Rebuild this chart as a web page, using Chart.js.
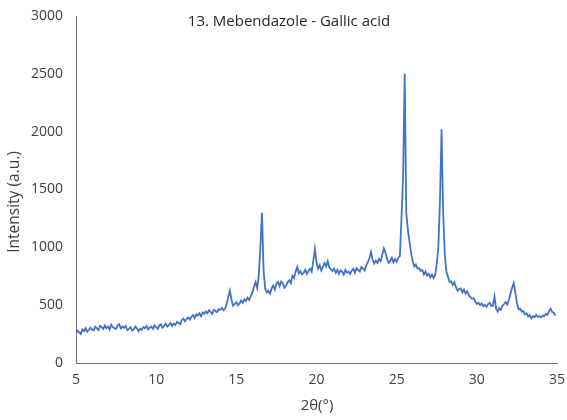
<!DOCTYPE html>
<html>
<head>
<meta charset="utf-8">
<script src="https://cdn.jsdelivr.net/npm/chart.js@4.4.1/dist/chart.umd.min.js"></script>
<style>
  html, body { margin: 0; padding: 0; background: #ffffff; }
  #wrap { width: 567px; height: 420px; position: relative; }
</style>
</head>
<body>
<div id="wrap"><canvas id="c" width="567" height="420"></canvas></div>
<script>
const chartTitle = "13. Mebendazole - Gallic acid";
const xAxisTitle = "2θ(°)";
const yAxisTitle = "Intensity (a.u.)";
const yTicks = [0, 500, 1000, 1500, 2000, 2500, 3000];
const xTicks = [5, 10, 15, 20, 25, 30, 35];

// 2θ positions (degrees)
const twoTheta = [
  5.0,5.1,5.2,5.3,5.4,5.5,5.6,5.7,5.8,5.9,
  6.0,6.1,6.2,6.3,6.4,6.5,6.6,6.7,6.8,6.9,
  7.0,7.1,7.2,7.3,7.4,7.5,7.6,7.7,7.8,7.9,
  8.0,8.1,8.2,8.3,8.4,8.5,8.6,8.7,8.8,8.9,
  9.0,9.1,9.2,9.3,9.4,9.5,9.6,9.7,9.8,9.9,
  10.0,10.1,10.2,10.3,10.4,10.5,10.6,10.7,10.8,10.9,
  11.0,11.1,11.2,11.3,11.4,11.5,11.6,11.7,11.8,11.9,
  12.0,12.1,12.2,12.3,12.4,12.5,12.6,12.7,12.8,12.9,
  13.0,13.1,13.2,13.3,13.4,13.5,13.6,13.7,13.8,13.9,
  14.0,14.1,14.2,14.3,14.4,14.5,14.6,14.7,14.8,14.9,
  15.0,15.1,15.2,15.3,15.4,15.5,15.6,15.7,15.8,15.9,
  16.0,16.1,16.2,16.3,16.4,16.5,16.6,16.7,16.8,16.9,
  17.0,17.1,17.2,17.3,17.4,17.5,17.6,17.7,17.8,17.9,
  18.0,18.1,18.2,18.3,18.4,18.5,18.6,18.7,18.8,18.9,
  19.0,19.1,19.2,19.3,19.4,19.5,19.6,19.7,19.8,19.9,
  20.0,20.1,20.2,20.3,20.4,20.5,20.6,20.7,20.8,20.9,
  21.0,21.1,21.2,21.3,21.4,21.5,21.6,21.7,21.8,21.9,
  22.0,22.1,22.2,22.3,22.4,22.5,22.6,22.7,22.8,22.9,
  23.0,23.1,23.2,23.3,23.4,23.5,23.6,23.7,23.8,23.9,
  24.0,24.1,24.2,24.3,24.4,24.5,24.6,24.7,24.8,24.9,
  25.0,25.1,25.2,25.3,25.4,25.5,25.6,25.7,25.8,25.9,
  26.0,26.1,26.2,26.3,26.4,26.5,26.6,26.7,26.8,26.9,
  27.0,27.1,27.2,27.3,27.4,27.5,27.6,27.7,27.8,27.9,
  28.0,28.1,28.2,28.3,28.4,28.5,28.6,28.7,28.8,28.9,
  29.0,29.1,29.2,29.3,29.4,29.5,29.6,29.7,29.8,29.9,
  30.0,30.1,30.2,30.3,30.4,30.5,30.6,30.7,30.8,30.9,
  31.0,31.1,31.2,31.3,31.4,31.5,31.6,31.7,31.8,31.9,
  32.0,32.1,32.2,32.3,32.4,32.5,32.6,32.7,32.8,32.9,
  33.0,33.1,33.2,33.3,33.4,33.5,33.6,33.7,33.8,33.9,
  34.0,34.1,34.2,34.3,34.4,34.5,34.6,34.7,34.8,34.9
];

// Intensity (a.u.)
const intensity = [
  255,280,265,250,290,275,300,270,285,305,
  290,280,315,300,285,320,310,295,325,300,
  315,290,330,310,300,295,325,335,300,315,
  305,320,285,295,310,280,290,315,300,275,
  295,285,310,300,320,290,305,315,295,325,
  310,295,325,335,305,320,340,315,330,345,
  320,340,330,355,345,335,370,385,360,380,
  395,375,400,415,390,420,410,430,405,435,
  425,445,430,455,440,425,460,450,440,465,
  460,475,455,470,510,575,625,545,495,510,
  525,500,515,540,520,550,535,565,545,575,
  610,660,700,650,760,1000,1300,800,640,610,
  625,600,645,670,635,685,700,665,705,690,
  650,665,700,715,690,755,735,790,830,775,
  795,765,780,805,770,795,815,790,880,985,
  870,815,845,800,830,865,835,880,825,810,
  795,815,780,805,770,800,790,765,805,780,
  790,770,800,815,780,820,805,790,830,815,
  800,845,870,905,960,895,860,885,865,900,
  880,935,990,955,900,865,880,910,870,900,
  875,910,925,1250,1600,2500,1300,1150,1050,950,
  880,835,850,815,820,795,805,765,790,755,
  770,740,765,735,760,860,1000,1400,2020,1300,
  940,790,745,700,705,675,700,655,625,640,
  645,610,635,600,620,585,570,555,560,535,
  510,520,500,515,490,505,485,510,520,495,
  495,575,470,445,475,460,495,510,525,505,
  545,600,650,690,610,520,465,470,445,450,
  420,430,400,415,385,405,395,415,400,405,
  395,410,405,425,415,445,470,440,435,410
];

const points = twoTheta.map((x, i) => ({ x: x, y: intensity[i] }));

const FONT = "'Open Sans', 'Liberation Sans', sans-serif";
const TEXT = '#404040';
const AXIS = '#6e6e6e';

const textPlugin = {
  id: 'texts',
  afterDraw(chart) {
    const ctx = chart.ctx;
    ctx.save();
    ctx.textAlign = 'center';
    ctx.textBaseline = 'middle';
    ctx.fillStyle = '#262626';
    ctx.font = '15px ' + FONT;
    ctx.fillText(chartTitle, 289, 22);
    ctx.fillStyle = TEXT;
    ctx.font = '15px ' + FONT;
    ctx.fillText(xAxisTitle, 317, 406);
    ctx.translate(15, 202);
    ctx.rotate(-Math.PI / 2);
    ctx.font = '15.5px ' + FONT;
    ctx.fillText(yAxisTitle, 0, 0);
    ctx.restore();
  }
};

new Chart(document.getElementById('c'), {
  type: 'line',
  data: {
    datasets: [{
      data: points,
      borderColor: '#4472C4',
      borderWidth: 1.8,
      pointRadius: 0,
      tension: 0,
      fill: false
    }]
  },
  options: {
    responsive: false,
    animation: false,
    devicePixelRatio: 1,
    layout: { padding: { top: 16, right: 10, left: 0, bottom: 0 } },
    plugins: { legend: { display: false }, tooltip: { enabled: false } },
    scales: {
      x: {
        type: 'linear',
        min: 5, max: 35,
        afterBuildTicks(scale) { scale.ticks = xTicks.map(v => ({ value: v })); },
        afterFit(scale) { scale.height = 57; scale.paddingLeft = 0; scale.paddingRight = 0; },
        grid: { display: false, drawTicks: false },
        border: { display: true, color: AXIS, width: 1 },
        ticks: { padding: 9, color: TEXT, font: { family: FONT, size: 14 }, maxRotation: 0,
                 callback: v => String(v) },
        title: { display: false }
      },
      y: {
        min: 0, max: 3000,
        afterBuildTicks(scale) { scale.ticks = yTicks.map(v => ({ value: v })); },
        afterFit(scale) { scale.width = 76; scale.paddingTop = 0; scale.paddingBottom = 0; },
        grid: { display: false, drawTicks: false },
        border: { display: true, color: AXIS, width: 1 },
        ticks: { padding: 13, color: TEXT, font: { family: FONT, size: 14 }, callback: v => String(v) },
        title: { display: false }
      }
    }
  },
  plugins: [textPlugin]
});
</script>
</body>
</html>
